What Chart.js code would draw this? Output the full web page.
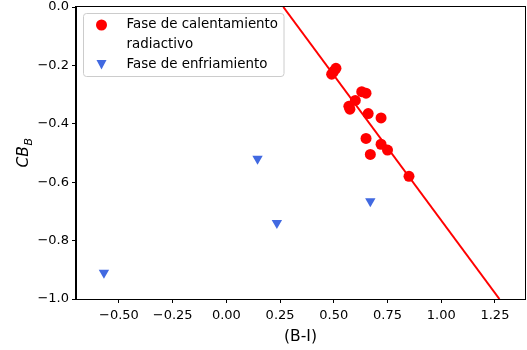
<!DOCTYPE html>
<html lang="es">
<head>
<meta charset="utf-8">
<title>CB_B vs (B-I)</title>
<script src="https://cdn.jsdelivr.net/npm/chart.js@4.4.1/dist/chart.umd.min.js"></script>
<style>
    body { margin: 0; background: #ffffff; }
    canvas { display: block; }
</style>
</head>
<body>
<canvas id="graficoCB" width="527" height="350"></canvas>
<script>
// Datos
const calentamientoX = [0.51, 0.50, 0.49, 0.63, 0.65, 0.60, 0.57, 0.575, 0.66, 0.72, 0.65, 0.72, 0.75, 0.67, 0.85];
const calentamientoY = [-0.21, -0.22, -0.23, -0.29, -0.295, -0.32, -0.34, -0.35, -0.365, -0.38, -0.45, -0.47, -0.49, -0.505, -0.58];
const enfriamientoX = [-0.57, 0.145, 0.235, 0.67];
const enfriamientoY = [-0.91, -0.52, -0.74, -0.665];
const ajusteX = [0.265, 1.271];
const ajusteY = [0.0, -1.0];

const xTicks = [-0.5, -0.25, 0, 0.25, 0.5, 0.75, 1.0, 1.25];
const xTickLabels = ["\u22120.50", "\u22120.25", "0.00", "0.25", "0.50", "0.75", "1.00", "1.25"];
const yTicks = [0, -0.2, -0.4, -0.6, -0.8, -1.0];
const yTickLabels = ["0.0", "\u22120.2", "\u22120.4", "\u22120.6", "\u22120.8", "\u22121.0"];

const legendLabels = [["Fase de calentamiento", "radiactivo"], ["Fase de enfriamiento"]];

const ROJO = "#ff0000";
const AZUL = "#4169e1";
const FUENTE = "'DejaVu Sans', sans-serif";
const BORDE_DERECHO = 525;

document.addEventListener("DOMContentLoaded", function () {
    renderGrafico();
});

// Convierte dos listas en puntos {x, y}
function toPoints(xs, ys) {
    return xs.map((x, i) => ({ x: x, y: ys[i] }));
}

// Chart.js deja unos pixeles libres a la derecha: los recuperamos
const areaPlugin = {
    id: "ajusteArea",
    afterLayout(chart) {
        const x = chart.scales.x;
        x.right = BORDE_DERECHO;
        x.width = x.right - x.left;
        x.configure();
        chart.chartArea.right = BORDE_DERECHO;
        chart.chartArea.width = chart.chartArea.right - chart.chartArea.left;
    }
};

// Marco completo, leyenda y etiqueta del eje y
const marcoPlugin = {
    id: "marco",
    afterDraw(chart) {
        const ctx = chart.ctx;
        const a = chart.chartArea;
        ctx.save();
        ctx.strokeStyle = "#000000";
        ctx.lineWidth = 1;
        ctx.strokeRect(Math.round(a.left) - 0.5, Math.round(a.top) - 0.5, Math.round(a.right - a.left) + 1, Math.round(a.bottom - a.top) + 1);

        // caja de la leyenda
        ctx.beginPath();
        ctx.roundRect(83.5, 13.5, 200.5, 63, 3);
        ctx.fillStyle = "rgba(255,255,255,0.8)";
        ctx.fill();
        ctx.strokeStyle = "#cccccc";
        ctx.stroke();

        ctx.fillStyle = ROJO;
        ctx.beginPath();
        ctx.arc(101.5, 25, 5.5, 0, Math.PI * 2);
        ctx.fill();

        ctx.fillStyle = AZUL;
        ctx.beginPath();
        ctx.moveTo(96.5, 60);
        ctx.lineTo(106.5, 60);
        ctx.lineTo(101.5, 69.5);
        ctx.closePath();
        ctx.fill();

        ctx.fillStyle = "#000000";
        ctx.font = "13.4px " + FUENTE;
        ctx.textBaseline = "middle";
        ctx.textAlign = "left";
        ctx.fillText(legendLabels[0][0], 126.5, 25);
        ctx.fillText(legendLabels[0][1], 126.5, 45);
        ctx.fillText(legendLabels[1][0], 126.5, 64.5);

        // etiqueta del eje y: CB con subindice B
        ctx.translate(28, (a.top + a.bottom) / 2);
        ctx.rotate(-Math.PI / 2);
        ctx.textBaseline = "alphabetic";
        ctx.font = "italic 15.5px " + FUENTE;
        const w1 = ctx.measureText("CB").width;
        ctx.font = "italic 11px " + FUENTE;
        const w2 = ctx.measureText("B").width;
        const x0 = -(w1 + w2) / 2;
        ctx.font = "italic 15.5px " + FUENTE;
        ctx.fillText("CB", x0, 0);
        ctx.font = "italic 11px " + FUENTE;
        ctx.fillText("B", x0 + w1 + 0.5, 3.5);
        ctx.restore();
    }
};

// Crea el grafico de dispersion
function renderGrafico() {
    const ctx = document.getElementById("graficoCB").getContext("2d");

    new Chart(ctx, {
        type: "scatter",
        data: {
            datasets: [
                {
                    label: "Ajuste",
                    type: "line",
                    data: toPoints(ajusteX, ajusteY),
                    borderColor: ROJO,
                    borderWidth: 2,
                    pointRadius: 0,
                    fill: false,
                    order: 2
                },
                {
                    label: legendLabels[0].join(" "),
                    data: toPoints(calentamientoX, calentamientoY),
                    backgroundColor: ROJO,
                    borderColor: ROJO,
                    borderWidth: 0,
                    pointRadius: 5.5,
                    order: 1
                },
                {
                    label: legendLabels[1][0],
                    data: toPoints(enfriamientoX, enfriamientoY),
                    backgroundColor: AZUL,
                    borderColor: AZUL,
                    borderWidth: 0,
                    pointStyle: "triangle",
                    rotation: 180,
                    pointRadius: 6,
                    order: 1
                }
            ]
        },
        options: {
            responsive: false,
            animation: false,
            devicePixelRatio: 1,
            layout: { padding: { top: 7, right: 2, left: 0, bottom: 0 } },
            plugins: {
                legend: { display: false },
                tooltip: { enabled: false }
            },
            scales: {
                x: {
                    type: "linear",
                    min: -0.70,
                    max: 1.39,
                    afterFit(scale) {
                        scale.height = 51;
                        scale.paddingLeft = 0;
                        scale.paddingRight = 0;
                    },
                    afterBuildTicks(scale) { scale.ticks = xTicks.map(v => ({ value: v })); },
                    ticks: {
                        color: "#000000",
                        font: { family: FUENTE, size: 13 },
                        padding: 5,
                        maxRotation: 0,
                        callback: (value, index) => xTickLabels[index]
                    },
                    grid: { drawOnChartArea: false, drawTicks: true, tickLength: 4, tickColor: "#000000" },
                    border: { display: true, color: "#000000", width: 1 },
                    title: {
                        display: true,
                        text: "(B-I)",
                        color: "#000000",
                        font: { family: FUENTE, size: 15.5 },
                        padding: { top: 2, bottom: 4 }
                    }
                },
                y: {
                    type: "linear",
                    min: -1.0,
                    max: 0.0,
                    afterFit(scale) {
                        scale.width = 76;
                        scale.paddingTop = 0;
                        scale.paddingBottom = 0;
                    },
                    afterBuildTicks(scale) { scale.ticks = yTicks.map(v => ({ value: v })); },
                    ticks: {
                        color: "#000000",
                        font: { family: FUENTE, size: 13 },
                        padding: 3,
                        callback: (value, index) => yTickLabels[index]
                    },
                    grid: { drawOnChartArea: false, drawTicks: true, tickLength: 4, tickColor: "#000000" },
                    border: { display: true, color: "#000000", width: 1 }
                }
            }
        },
        plugins: [areaPlugin, marcoPlugin]
    });
}
</script>
</body>
</html>
